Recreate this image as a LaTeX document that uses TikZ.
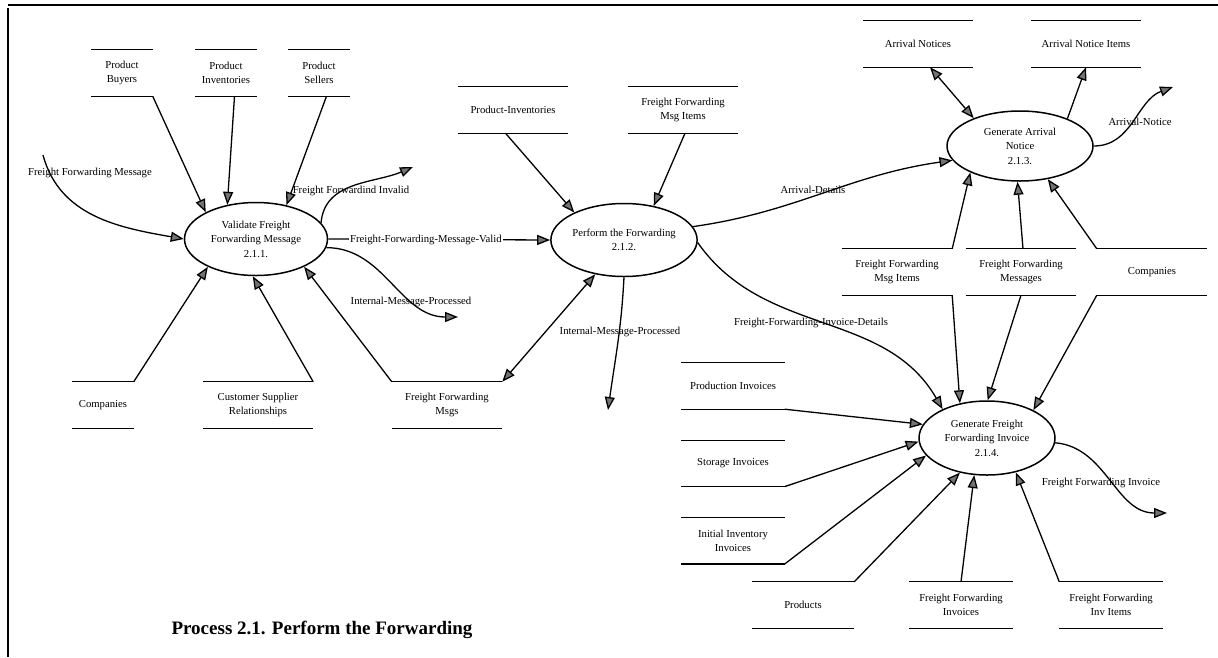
\documentclass[tikz,border=0pt]{standalone}
\usepackage{fontspec}
\setmainfont{Liberation Serif}
\usepackage{tikz}
\usetikzlibrary{arrows.meta, positioning, shapes.geometric}
\usepackage{xcolor}
\definecolor{tipgray}{RGB}{115,115,115}
\newcommand{\dfdsize}{\fontsize{10.7}{14.5}\selectfont}

\begin{document}
\begin{tikzpicture}[
      x=1pt, y=-1pt,
      proc/.style={ellipse, draw, line width=1.5pt, align=center, inner sep=0pt,
                   minimum width=143pt, minimum height=73pt, font=\dfdsize},
      store/.style={rectangle, align=center, inner sep=1pt,
                   minimum width=110pt, minimum height=46pt, font=\dfdsize,
                   append after command={
                     (\tikzlastnode.north west) edge[line width=1.3pt] (\tikzlastnode.north east)
                     (\tikzlastnode.south west) edge[line width=1.3pt] (\tikzlastnode.south east)}},
      smallstore/.style={store, minimum width=61pt},
      flow/.style={font=\dfdsize, inner sep=1pt},
      arr/.style={-{Triangle[length=13pt, width=10pt, fill=tipgray]}, line width=1.3pt},
      dblarr/.style={{Triangle[length=13pt, width=10pt, fill=tipgray]}-{Triangle[length=13pt, width=10pt, fill=tipgray]},
                     line width=1.3pt}
    ]
    \useasboundingbox (0,0) rectangle (1218,657);
    \draw[line width=1.6pt] (8,5) -- (1218,5);
    \draw[line width=1.8pt] (8,8) -- (8,657);

    % processes
    \node[proc] (validate) at (256,239) {Validate Freight\\Forwarding Message\\2.1.1.};
    \node[proc] (perform) at (624,240) {Perform the Forwarding\\2.1.2.};
    \node[proc, minimum width=146pt, minimum height=70pt] (arrival) at (1020,146) {Generate Arrival\\Notice\\2.1.3.};
    \node[proc, minimum width=136pt, minimum height=74pt] (invoice) at (987,438) {Generate Freight\\Forwarding Invoice\\2.1.4.};

    % data stores
    \node[smallstore] (buyers) at (122,73) {Product\\Buyers};
    \node[smallstore] (inventories) at (226,73) {Product\\Inventories};
    \node[smallstore] (sellers) at (319,73) {Product\\Sellers};
    \node[smallstore] (companies) at (103,405) {Companies};
    \node[store] (custsupp) at (258,405) {Customer Supplier\\Relationships};
    \node[store] (ffmsgs) at (447,405) {Freight Forwarding\\Msgs};
    \node[store] (prodinv) at (513,110) {Product-Inventories};
    \node[store] (msgitems) at (683,110) {Freight Forwarding\\Msg Items};
    \node[store] (notices) at (918,44) {Arrival Notices};
    \node[store] (noticeitems) at (1086,44) {Arrival Notice Items};
    \node[store] (msgitemsb) at (897,272) {Freight Forwarding\\Msg Items};
    \node[store] (messages) at (1021,272) {Freight Forwarding\\Messages};
    \node[store] (companiesb) at (1152,272) {Companies};
    \node[store, minimum width=103pt] (prodinvoices) at (733,386) {Production Invoices};
    \node[store, minimum width=103pt, below=31pt of prodinvoices] (storinvoices) {Storage Invoices};
    \node[store, minimum width=103pt, below=31pt of storinvoices] (initinvoices) {Initial Inventory\\Invoices};
    \node[store, minimum width=102pt] (products) at (803,605) {Products};
    \node[store, minimum width=104pt] (ffinvoices) at (961,605) {Freight Forwarding\\Invoices};
    \node[store, minimum width=103pt] (invitems) at (1111,605) {Freight Forwarding\\Inv Items};

    % loose ends of the flows
    \coordinate (msgsrc) at (43,155);
    \coordinate (invalidend) at (413,167);
    \coordinate (procend) at (458,317);
    \coordinate (procendb) at (608,410);
    \coordinate (noticeend) at (1173,87);
    \coordinate (invoiceend) at (1167,513);

    \draw[arr] (buyers.south east) -- (validate.152);
    \draw[arr] ([xshift=8.5pt]inventories.south) -- (validate.130);
    \draw[arr] ([xshift=7.5pt]sellers.south) -- (validate.48);
    \draw[arr] (companies.north east) -- (validate.210);
    \draw[arr] (custsupp.north east) -- (validate.265);
    \draw[arr] (ffmsgs.north west) -- (validate.330);
    \draw[dblarr] (ffmsgs.north east) -- (perform.230);
    \draw[arr] ([xshift=-7.5pt]prodinv.south) -- (perform.151);
    \draw[arr] ([xshift=2pt]msgitems.south) -- (perform.49);
    \draw[dblarr] ([xshift=12pt]notices.south) -- (arrival.149);
    \draw[arr] (arrival.30) -- (noticeitems.south);
    \draw[arr] (msgitemsb.north east) -- (arrival.208);
    \draw[arr] ([xshift=2pt]messages.north) -- (arrival.266);
    \draw[arr] (companiesb.north west) -- (arrival.310);
    \draw[arr] (msgitemsb.south east) -- (invoice.128);
    \draw[arr] (messages.south) -- (invoice.89);
    \draw[arr] (companiesb.south west) -- (invoice.31);
    \draw[arr] (prodinvoices.south east) -- (invoice.168);
    \draw[arr] (storinvoices.south east) -- (invoice.183);
    \draw[arr] (initinvoices.south east) -- (invoice.196);
    \draw[arr] (products.north east) -- (invoice.232);
    \draw[arr] (ffinvoices.north) -- (invoice.251);
    \draw[arr] (invitems.north west) -- (invoice.310);

    \draw[arr] (msgsrc) to[out=-75, in=170] (validate.west);
    \draw[arr] (validate.14) to[out=85, in=203] (invalidend);
    \draw[arr] (validate.east) -- node[flow, fill=white, pos=0.44] (validlbl) {Freight-Forwarding-Message-Valid} (perform.west);
    \draw[arr] (validate.353) to[out=0, in=180] (procend);
    \draw[arr] (perform.south) to[out=-93, in=82] (procendb);
    \draw[arr] (perform.11) to[out=8, in=188] (arrival.192);
    \draw[arr] (perform.358) to[out=-55, in=120] (invoice.147);
    \draw[arr] (arrival.east) to[out=0, in=200] (noticeend);
    \draw[arr] (invoice.356) to[out=-5, in=180] (invoiceend);

    % flow labels
    \node[flow] (msglbl) at (90,173) {Freight Forwarding Message};
    \node[flow] (invalidlbl) at (351,191) {Freight Forwardind Invalid};
    \node[flow] (proclbl) at (411,302) {Internal-Message-Processed};
    \node[flow] (proclblb) at (620,332) {Internal-Message-Processed};
    \node[flow] (detailslbl) at (813,190) {Arrival-Details};
    \node[flow] (invdetlbl) at (811,323) {Freight-Forwarding-Invoice-Details};
    \node[flow] (noticelbl) at (1140,122) {Arrival-Notice};
    \node[flow] (invoicelbl) at (1101,483) {Freight Forwarding Invoice};

    \node[font=\bfseries\fontsize{19}{22}\selectfont] (title) at (322,630) {Process 2.1. Perform the Forwarding};
  \end{tikzpicture}
\end{document}
